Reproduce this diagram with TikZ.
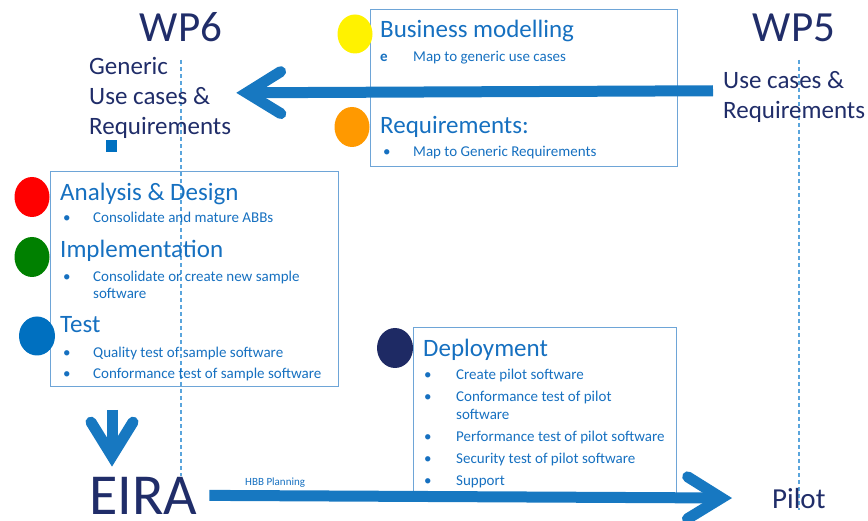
\documentclass[tikz,border=0pt]{standalone}
\usepackage{fontspec}
\setmainfont{Carlito}
\usetikzlibrary{arrows.meta}

\definecolor{azulosc}{RGB}{32,45,105}
\definecolor{azultxt}{RGB}{22,112,192}
\definecolor{azulflecha}{RGB}{23,120,193}
\definecolor{azulcaja}{RGB}{110,165,215}
\definecolor{azulguia}{RGB}{90,165,220}
\definecolor{marino}{RGB}{30,42,100}
\definecolor{naranja}{RGB}{255,153,0}
\definecolor{verde}{RGB}{0,128,0}
\definecolor{azulbola}{RGB}{0,112,192}

\tikzset{
	wp/.style={font=\fontsize{43}{50}\selectfont, text=azulosc, inner sep=0, anchor=base},
	bloque/.style={font=\fontsize{25}{30}\selectfont, text=azulosc, inner sep=0, align=left, anchor=north west},
	titulo/.style={font=\fontsize{25}{30}\selectfont, text=azultxt, inner sep=0, anchor=base west},
	punto/.style={font=\fontsize{15}{18}\selectfont, text=azultxt, inner sep=0, anchor=base west},
	caja/.style={draw=azulcaja, line width=1pt},
	guia/.style={draw=azulguia, line width=1.5pt, dash pattern=on 4pt off 3pt},
	flecha/.style={draw=azulflecha, line width=11pt, -{Straight Barb[line cap=round, line join=miter, length=34pt, width=42pt]}},
}

\begin{document}
\begin{tikzpicture}[x=1pt, y=-1pt]
		\useasboundingbox (0,0) rectangle (868,521);

		% Cajas ---------------------------------------------------------------
		\draw[caja] (370,10) rectangle (677,167); % modelado y requisitos
		\draw[caja] (50,172) rectangle (338,387); % analisis, implementacion, test
		\draw[caja] (413,328) rectangle (676,495); % despliegue

		% Lineas guia ---------------------------------------------------------
		\draw[guia] (181,60) -- (181,476);
		\draw[guia] (799,60) -- (799,510);

		% Bolas de colores ----------------------------------------------------
		\fill[yellow] (355,34) ellipse (17.5pt and 19.5pt);
		\fill[naranja] (352,127) ellipse (17.5pt and 20pt);
		\fill[red] (32,197) ellipse (17.5pt and 20pt);
		\fill[verde] (32,257) ellipse (17.5pt and 20pt);
		\fill[azulbola] (37,336) ellipse (18pt and 19.5pt);
		\fill[marino] (395,348) ellipse (18pt and 20pt);
		\fill[azulbola] (106,140) rectangle (117,152); % cuadrito

		% WP6 y WP5 -----------------------------------------------------------
		\node[wp] (wp6) at (181,42) {WP6};
		\node[wp] (wp5) at (794,42) {WP5};
		\node[bloque] (gen) at (89,57) {Generic\\Use cases \&\\Requirements};
		\node[bloque] (uc5) at (723,71) {Use cases \&\\Requirements};

		% Caja superior -------------------------------------------------------
		\node[titulo] (bm) at (380,38) {Business modelling};
		\node[punto] (bm0) at (380,62) {\textbf{e}};
		\node[punto] (bm1) at (413,62) {Map to generic use cases};
		\node[titulo] (req) at (380,134) {Requirements:};
		\node[punto] (req0) at (383,157) {•};
		\node[punto] (req1) at (413,157) {Map to Generic Requirements};

		% Caja izquierda ------------------------------------------------------
		\node[titulo] (ad) at (60,201) {Analysis \& Design};
		\node[punto] (ad0) at (63,223) {•};
		\node[punto] (ad1) at (93,223) {Consolidate and mature ABBs};
		\node[titulo] (imp) at (60,258) {Implementation};
		\node[punto] (imp0) at (63,282) {•};
		\node[punto] (imp1) at (93,282) {Consolidate or create new sample};
		\node[punto] (imp2) at (93,299) {software};
		\node[titulo] (tst) at (60,333) {Test};
		\node[punto] (tst0) at (63,358) {•};
		\node[punto] (tst1) at (93,358) {Quality test of sample software};
		\node[punto] (tst2) at (63,379) {•};
		\node[punto] (tst3) at (93,379) {Conformance test of sample software};

		% Caja de despliegue --------------------------------------------------
		\node[titulo] (dep) at (423,357) {Deployment};
		\node[punto] (dep0) at (424,380) {•};
		\node[punto] (dep1) at (456,380) {Create pilot software};
		\node[punto] (dep2) at (424,402) {•};
		\node[punto] (dep3) at (456,402) {Conformance test of pilot};
		\node[punto] (dep4) at (456,420) {software};
		\node[punto] (dep5) at (424,442) {•};
		\node[punto] (dep6) at (456,442) {Performance test of pilot software};
		\node[punto] (dep7) at (424,463) {•};
		\node[punto] (dep8) at (456,463) {Security test of pilot software};
		\node[punto] (dep9) at (424,485) {•};
		\node[punto] (dep10) at (456,485) {Support};

		% EIRA y piloto -------------------------------------------------------
		\node[font=\fontsize{58}{62}\selectfont, text=azulosc, inner sep=0, anchor=base west] (eira) at (89,514) {EIRA};
		\node[font=\fontsize{29}{32}\selectfont, text=azulosc, inner sep=0, anchor=base west] (pilot) at (772,508) {Pilot};
		\node[font=\fontsize{11}{13}\selectfont, text=azultxt, inner sep=0, anchor=base west] (hbb) at (245,485) {HBB Planning};

		% Flechas -------------------------------------------------------------
		\coordinate (bajada) at (112,410);
		\draw[flecha] ([yshift=6pt, xshift=-10pt]uc5.west) -- ([yshift=5pt, xshift=5pt]gen.east); % WP5 a WP6
		\draw[flecha] (bajada) -- ([yshift=10pt]bajada |- eira.north); % hacia EIRA
		\draw[flecha] ([xshift=12pt]eira.east) -- ([xshift=-40pt]pilot.west); % EIRA a piloto
	\end{tikzpicture}
\end{document}
